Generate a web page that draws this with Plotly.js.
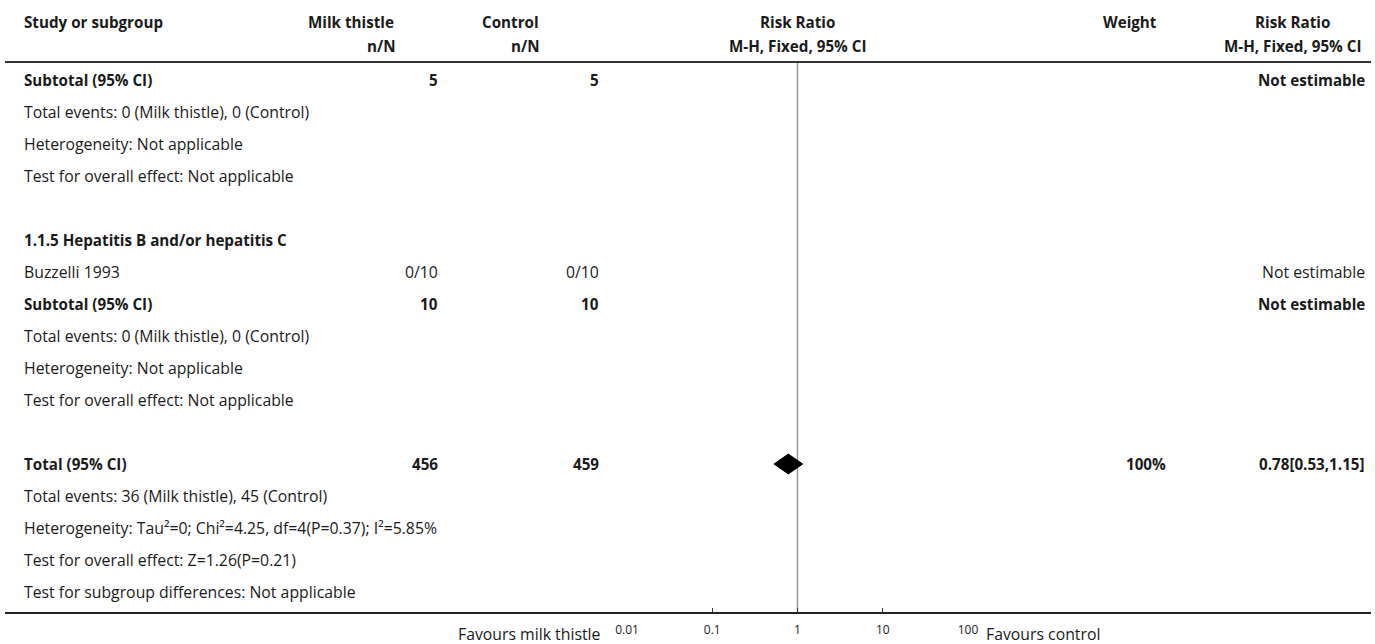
<!DOCTYPE html>
<html>
<head>
<meta charset="utf-8">
<script src="https://cdn.plot.ly/plotly-3.0.1.min.js"></script>
<style>html,body{margin:0;padding:0;background:#fff;}#chart{width:1375px;height:644px;}</style>
</head>
<body>
<div id="chart"></div>
<script>
// ---- data ----
var headerTop = ["Study or subgroup", "Milk thistle", "Control", "Risk Ratio", "Weight", "Risk Ratio"];
var headerSub = ["", "n/N", "n/N", "M-H, Fixed, 95% CI", "", "M-H, Fixed, 95% CI"];

var rowLabels = [
  "Subtotal (95% CI)",
  "Total events: 0 (Milk thistle), 0 (Control)",
  "Heterogeneity: Not applicable",
  "Test for overall effect: Not applicable",
  "",
  "1.1.5 Hepatitis B and/or hepatitis C",
  "Buzzelli 1993",
  "Subtotal (95% CI)",
  "Total events: 0 (Milk thistle), 0 (Control)",
  "Heterogeneity: Not applicable",
  "Test for overall effect: Not applicable",
  "",
  "Total (95% CI)",
  "Total events: 36 (Milk thistle), 45 (Control)",
  "Heterogeneity: Tau\u00b2=0; Chi\u00b2=4.25, df=4(P=0.37); I\u00b2=5.85%",
  "Test for overall effect: Z=1.26(P=0.21)",
  "Test for subgroup differences: Not applicable"
];
var rowBold    = [1,0,0,0,0,1,0,1,0,0,0,0,1,0,0,0,0];
var milkCol    = ["5","","","","","","0/10","10","","","","","456","","","",""];
var controlCol = ["5","","","","","","0/10","10","","","","","459","","","",""];
var weightCol  = ["","","","","","","","","","","","","100%","","","",""];
var rrCol      = ["Not estimable","","","","","","Not estimable","Not estimable","","","","","0.78[0.53,1.15]","","","",""];

var diamondRow = 12;
var pooledRR = 0.78, pooledLow = 0.53, pooledHigh = 1.15;

var axisTicks = [0.01, 0.1, 1, 10, 100];
var axisTickText = ["0.01", "0.1", "1", "10", "100"];
var favoursLeft = "Favours milk thistle";
var favoursRight = "Favours control";

// ---- layout helpers ----
var W = 1375, H = 644;
function px(x) { return x / W; }
var FONT = "'Open Sans', sans-serif";
var TXT = "#1a1a1a";
var FS = 15.8;   // regular text
var FB = 15.2;   // bold text
var annotations = [];
function addText(text, x, y, anchor, bold) {
  if (!text) return;
  annotations.push({
    text: bold ? "<b>" + text + "</b>" : text,
    xref: "paper", yref: "y", x: px(x), y: y,
    xanchor: anchor, yanchor: "middle", showarrow: false,
    font: {family: FONT, size: bold ? FB : FS, color: TXT}
  });
}

// header
var hY1 = -1.8125, hY2 = -1.0625;
var hX = [22, 396, 541, 797, 1130, 1292];
var hA = ["left", "right", "right", "center", "center", "center"];
for (var i = 0; i < headerTop.length; i++) {
  addText(headerTop[i], hX[i], hY1, hA[i], true);
}
var sX = [22, 398, 542, 797, 1130, 1292];
for (var i = 0; i < headerSub.length; i++) {
  addText(headerSub[i], sX[i], hY2, hA[i], true);
}

// rows
for (var r = 0; r < rowLabels.length; r++) {
  var b = rowBold[r] === 1;
  addText(rowLabels[r], 22, r, "left", b);
  addText(milkCol[r], 440, r, "right", b);
  addText(controlCol[r], 601, r, "right", b);
  addText(weightCol[r], 1168, r, "right", b);
  addText(rrCol[r], 1367, r, "right", b);
}

// favours labels
annotations.push({text: favoursLeft, xref: "paper", yref: "y", x: px(603), y: 17.3,
  xanchor: "right", yanchor: "middle", showarrow: false, font: {family: FONT, size: FS, color: TXT}});
annotations.push({text: favoursRight, xref: "paper", yref: "y", x: px(984), y: 17.3,
  xanchor: "left", yanchor: "middle", showarrow: false, font: {family: FONT, size: FS, color: TXT}});

var headerLineY = -0.5625;
var bottomLineY = 16.656;

var shapes = [
  {type: "line", xref: "paper", yref: "y", x0: px(5), x1: px(1371), y0: headerLineY, y1: headerLineY,
   line: {color: "#333", width: 2}},
  {type: "line", xref: "paper", yref: "y", x0: px(5), x1: px(1371), y0: bottomLineY, y1: bottomLineY,
   line: {color: "#222", width: 2}},
  {type: "line", xref: "x", yref: "y", x0: 1, x1: 1, y0: headerLineY, y1: bottomLineY,
   line: {color: "#999", width: 1.5}, layer: "below"}
];

var dh = 0.31;
var diamond = {
  type: "scatter", mode: "lines",
  x: [pooledLow, pooledRR, pooledHigh, pooledRR, pooledLow],
  y: [diamondRow, diamondRow - dh, diamondRow, diamondRow + dh, diamondRow],
  fill: "toself", fillcolor: "#000", line: {color: "#000", width: 1},
  hoverinfo: "skip", showlegend: false
};

var layout = {
  width: W, height: H,
  margin: {l: 0, r: 0, t: 0, b: 0, pad: 0},
  paper_bgcolor: "#fff", plot_bgcolor: "rgba(0,0,0,0)",
  showlegend: false,
  xaxis: {
    type: "log", range: [-2, 2], domain: [px(627), px(968)],
    anchor: "free", position: (H - 613) / H,
    tickvals: axisTicks, ticktext: axisTickText,
    ticks: "inside", ticklen: 5, tickwidth: 1, tickcolor: "#333",
    showline: false, showgrid: false, zeroline: false,
    ticklabelstandoff: 8,
    tickfont: {family: FONT, size: 12, color: TXT},
    fixedrange: true
  },
  yaxis: {
    range: [17.625, -2.5], domain: [0, 1], visible: false,
    showgrid: false, zeroline: false, fixedrange: true
  },
  shapes: shapes,
  annotations: annotations
};

Plotly.newPlot("chart", [diamond], layout, {displayModeBar: false, staticPlot: true});
</script>
</body>
</html>
